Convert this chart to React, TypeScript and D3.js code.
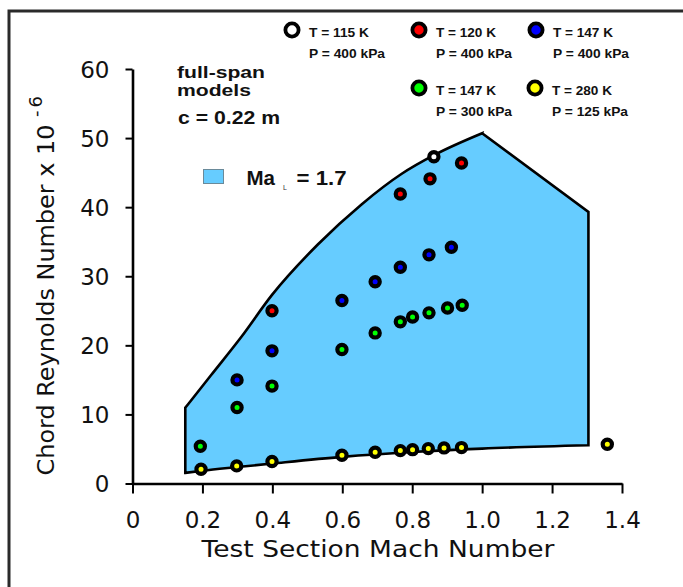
import React, { useRef, useEffect } from 'react';
import * as d3 from 'd3';

// axis ticks
const machTicks = [0, 0.2, 0.4, 0.6, 0.8, 1.0, 1.2, 1.4];
const reTicks = [0, 10, 20, 30, 40, 50, 60];

// measured points, [Mach, Re x 10^-6]
const t115p400: [number, number][] = [[0.862, 47.3]];
const t120p400: [number, number][] = [[0.399, 25.0], [0.766, 41.9], [0.851, 44.1], [0.941, 46.4]];
const t147p400: [number, number][] = [
    [0.299, 15.0], [0.399, 19.2], [0.599, 26.5], [0.694, 29.2], [0.766, 31.3], [0.848, 33.1], [0.912, 34.2],
];
const t147p300: [number, number][] = [
    [0.194, 5.4], [0.299, 11.0], [0.399, 14.1], [0.599, 19.4], [0.694, 21.8],
    [0.766, 23.4], [0.801, 24.1], [0.848, 24.7], [0.901, 25.4], [0.943, 25.8],
];
const t280p125: [number, number][] = [
    [0.196, 2.07], [0.298, 2.55], [0.399, 3.18], [0.599, 4.09], [0.694, 4.52], [0.766, 4.76],
    [0.801, 4.9], [0.846, 5.05], [0.891, 5.15], [0.941, 5.2], [1.358, 5.68],
];

// Ma_L = 1.7 envelope
const lowerEdge: [number, number][] = [
    [0.151, 1.54], [0.2, 1.85], [0.3, 2.38], [0.4, 2.89], [0.6, 3.85], [0.8, 4.55], [1.0, 5.05], [1.304, 5.53],
];
const rightEdge: [number, number][] = [[1.304, 39.3], [1.0, 50.7]];
const upperEdge: [number, number][] = [
    [0.151, 10.97], [0.225, 15.7], [0.311, 21.2], [0.399, 27.3], [0.53, 34.6], [0.655, 40.4],
    [0.769, 44.8], [0.865, 47.6], [1.0, 50.7],
];

const series = [
    { data: t115p400, color: '#ffffff', t: 'T = 115 K', p: 'P = 400 kPa' },
    { data: t120p400, color: '#ff0000', t: 'T = 120 K', p: 'P = 400 kPa' },
    { data: t147p400, color: '#0000ff', t: 'T = 147 K', p: 'P = 400 kPa' },
    { data: t147p300, color: '#00ff00', t: 'T = 147 K', p: 'P = 300 kPa' },
    { data: t280p125, color: '#ffff00', t: 'T = 280 K', p: 'P = 125 kPa' },
];

// legend spots (marker centre)
const legendPos = [[292, 30], [419, 30], [536, 30], [419, 88], [535, 88]];

const W = 683;
const H = 587;

const Chart: React.FC = () => {
    const ref = useRef<SVGSVGElement>(null);

    useEffect(() => {
        if (ref.current) draw();
    }, []);

    const draw = () => {
        const svg = d3.select(ref.current);
        svg.selectAll('*').remove();

        const x = d3.scaleLinear().domain([0, 1.4]).range([132.5, 622]);
        const y = d3.scaleLinear().domain([0, 60]).range([483.5, 69]);

        // frame
        svg.append('rect')
            .attr('x', 9).attr('y', 11)
            .attr('width', 720).attr('height', 620)
            .attr('fill', 'none').attr('stroke', '#2a2a2a').attr('stroke-width', 3);

        // envelope
        const line = d3.line<[number, number]>()
            .x(d => x(d[0])).y(d => y(d[1]))
            .curve(d3.curveMonotoneX);
        const lowerPath = line(lowerEdge)!;
        const upperPath = line([...upperEdge].reverse())!.replace(/^M/, 'L');
        const rightPath = rightEdge.map(d => `L${x(d[0])},${y(d[1])}`).join('');
        svg.append('path')
            .attr('d', lowerPath + rightPath + upperPath + 'Z')
            .attr('fill', '#66ccff')
            .attr('stroke', '#000')
            .attr('stroke-width', 2.6)
            .attr('stroke-linejoin', 'miter');

        // axes
        const fmt = (d: d3.NumberValue) => (+d === 0 ? '0' : d3.format('.1f')(+d));
        const gx = svg.append('g')
            .attr('transform', `translate(0,${y(0)})`)
            .call(d3.axisBottom(x).tickValues(machTicks).tickFormat(fmt).tickSizeInner(10).tickSizeOuter(0).tickPadding(8));
        const gy = svg.append('g')
            .attr('transform', `translate(${x(0)},0)`)
            .call(d3.axisLeft(y).tickValues(reTicks).tickSizeInner(7).tickSizeOuter(0).tickPadding(16));
        [gx, gy].forEach(g => {
            g.select('.domain').attr('stroke', '#000').attr('stroke-width', 2.6);
            g.selectAll('.tick line').attr('stroke', '#000').attr('stroke-width', 2);
            g.selectAll('.tick text')
                .attr('fill', '#111')
                .style('font-family', '"DejaVu Sans", sans-serif')
                .style('font-size', '23px');
        });
        gx.selectAll('.tick text').attr('dy', null).attr('y', 44);
        gy.selectAll('.tick text').attr('dy', '0.36em');

        // axis titles
        svg.append('text')
            .attr('x', 378).attr('y', 557)
            .attr('text-anchor', 'middle')
            .attr('textLength', 353)
            .attr('lengthAdjust', 'spacingAndGlyphs')
            .style('font-family', '"DejaVu Sans", sans-serif')
            .style('font-size', '23px')
            .attr('fill', '#111')
            .text('Test Section Mach Number');

        const yt = svg.append('g').attr('transform', 'translate(54,0) rotate(-90)');
        yt.append('text')
            .attr('x', -475.5).attr('y', 0)
            .attr('textLength', 351)
            .attr('lengthAdjust', 'spacingAndGlyphs')
            .style('font-family', '"DejaVu Sans", sans-serif')
            .style('font-size', '23px')
            .attr('fill', '#111')
            .text('Chord Reynolds Number x 10');
        yt.append('text')
            .attr('x', -117).attr('y', -12)
            .style('font-family', '"DejaVu Sans", sans-serif')
            .style('font-size', '18px')
            .style('letter-spacing', '3px')
            .attr('fill', '#111')
            .text('-6');

        // points
        series.forEach(s => {
            svg.append('g').selectAll('circle')
                .data(s.data)
                .enter().append('circle')
                .attr('cx', d => x(d[0]))
                .attr('cy', d => y(d[1]))
                .attr('r', 4.6)
                .attr('fill', s.color)
                .attr('stroke', '#000')
                .attr('stroke-width', 4.2);
        });

        // legend
        const bold = (sel: d3.Selection<SVGTextElement, unknown, null, undefined>, size: number) =>
            sel.style('font-family', '"Liberation Sans", Arial, sans-serif')
                .style('font-weight', 'bold')
                .style('font-size', `${size}px`)
                .attr('fill', '#111');

        series.forEach((s, i) => {
            const [cx, cy] = legendPos[i];
            svg.append('circle')
                .attr('cx', cx).attr('cy', cy).attr('r', 6.6)
                .attr('fill', s.color).attr('stroke', '#000').attr('stroke-width', 3.8);
            bold(svg.append('text').attr('x', cx + 17).attr('y', cy + 6.5)
                .attr('textLength', 60).attr('lengthAdjust', 'spacingAndGlyphs').text(s.t), 13.5);
            bold(svg.append('text').attr('x', cx + 17).attr('y', cy + 28.3)
                .attr('textLength', 76).attr('lengthAdjust', 'spacingAndGlyphs').text(s.p), 13.5);
        });

        bold(svg.append('text').attr('x', 177).attr('y', 78)
            .attr('textLength', 88).attr('lengthAdjust', 'spacingAndGlyphs').text('full-span'), 17);
        bold(svg.append('text').attr('x', 177).attr('y', 96)
            .attr('textLength', 74).attr('lengthAdjust', 'spacingAndGlyphs').text('models'), 17);
        bold(svg.append('text').attr('x', 178).attr('y', 123.5)
            .attr('textLength', 102).attr('lengthAdjust', 'spacingAndGlyphs').text('c = 0.22 m'), 19);

        svg.append('rect')
            .attr('x', 203.5).attr('y', 169.5).attr('width', 20).attr('height', 14)
            .attr('fill', '#66ccff').attr('stroke', '#6a8a9a').attr('stroke-width', 1);
        bold(svg.append('text').attr('x', 246.5).attr('y', 184.5).text('Ma'), 20.5);
        svg.append('text').attr('x', 283).attr('y', 189.5)
            .style('font-family', '"Liberation Sans", Arial, sans-serif')
            .style('font-size', '7px').attr('fill', '#333').text('L');
        bold(svg.append('text').attr('x', 296.5).attr('y', 184.5)
            .attr('textLength', 50).attr('lengthAdjust', 'spacingAndGlyphs').text('= 1.7'), 20.5);
    };

    return (
        <svg ref={ref} width={W} height={H}
            style={{ position: 'absolute', left: 0, top: 0, background: '#fff' }} />
    );
};

const App = () => <Chart />;

export default App;
